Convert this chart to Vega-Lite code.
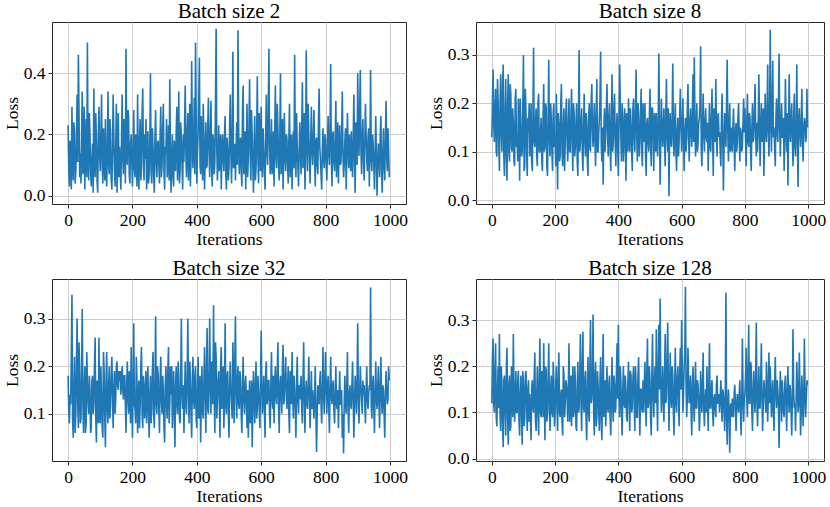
{
  "$schema": "https://vega.github.io/schema/vega-lite/v6.json",
  "padding": {"left": 2, "top": 0, "right": 0, "bottom": 0},
  "background": "white",
  "data": {
    "values": [
      {"x":0,"a":0.23,"b":0.13,"c":0.18,"d":0.12},
      {"x":4,"a":0.03,"b":0.27,"c":0.08,"d":0.26},
      {"x":8,"a":0.14,"b":0.12,"c":0.12,"d":0.1},
      {"x":12,"a":0.29,"b":0.23,"c":0.35,"d":0.25},
      {"x":16,"a":0.05,"b":0.09,"c":0.05,"d":0.07},
      {"x":20,"a":0.21,"b":0.2,"c":0.22,"d":0.2},
      {"x":24,"a":0.08,"b":0.06,"c":0.1,"d":0.27},
      {"x":28,"a":0.33,"b":0.26,"c":0.3,"d":0.06},
      {"x":32,"a":0.46,"b":0.1,"c":0.07,"d":0.16},
      {"x":36,"a":0.06,"b":0.28,"c":0.19,"d":0.025},
      {"x":40,"a":0.04,"b":0.05,"c":0.09,"d":0.18},
      {"x":44,"a":0.34,"b":0.25,"c":0.32,"d":0.05},
      {"x":48,"a":0.1,"b":0.04,"c":0.06,"d":0.24},
      {"x":52,"a":0.02,"b":0.26,"c":0.2,"d":0.03},
      {"x":56,"a":0.25,"b":0.08,"c":0.08,"d":0.18},
      {"x":60,"a":0.5,"b":0.22,"c":0.17,"d":0.07},
      {"x":64,"a":0.05,"b":0.1,"c":0.1,"d":0.16},
      {"x":68,"a":0.2,"b":0.16,"c":0.15,"d":0.27},
      {"x":72,"a":0.03,"b":0.07,"c":0.07,"d":0.08},
      {"x":76,"a":0.17,"b":0.23,"c":0.18,"d":0.19},
      {"x":80,"a":0.35,"b":0.12,"c":0.12,"d":0.1},
      {"x":84,"a":0.06,"b":0.21,"c":0.26,"d":0.19},
      {"x":88,"a":0.18,"b":0.04,"c":0.04,"d":0.05},
      {"x":92,"a":0.01,"b":0.15,"c":0.15,"d":0.18},
      {"x":96,"a":0.29,"b":0.1,"c":0.26,"d":0.03},
      {"x":100,"a":0.08,"b":0.3,"c":0.08,"d":0.16},
      {"x":104,"a":0.33,"b":0.07,"c":0.14,"d":0.09},
      {"x":108,"a":0.04,"b":0.18,"c":0.05,"d":0.19},
      {"x":112,"a":0.14,"b":0.05,"c":0.19,"d":0.06},
      {"x":116,"a":0.25,"b":0.14,"c":0.03,"d":0.17},
      {"x":120,"a":0.03,"b":0.09,"c":0.23,"d":0.14},
      {"x":124,"a":0.34,"b":0.2,"c":0.08,"d":0.04},
      {"x":128,"a":0.07,"b":0.06,"c":0.2,"d":0.17},
      {"x":132,"a":0.21,"b":0.315,"c":0.12,"d":0.1},
      {"x":136,"a":0.02,"b":0.11,"c":0.22,"d":0.23},
      {"x":140,"a":0.33,"b":0.19,"c":0.07,"d":0.06},
      {"x":144,"a":0.09,"b":0.07,"c":0.19,"d":0.2},
      {"x":148,"a":0.15,"b":0.22,"c":0.13,"d":0.05},
      {"x":152,"a":0.01,"b":0.1,"c":0.21,"d":0.26},
      {"x":156,"a":0.27,"b":0.17,"c":0.15,"d":0.09},
      {"x":160,"a":0.16,"b":0.06,"c":0.17,"d":0.16},
      {"x":164,"a":0.02,"b":0.24,"c":0.14,"d":0.25},
      {"x":168,"a":0.33,"b":0.11,"c":0.2,"d":0.04},
      {"x":172,"a":0.07,"b":0.19,"c":0.13,"d":0.19},
      {"x":176,"a":0.22,"b":0.05,"c":0.18,"d":0.1},
      {"x":180,"a":0.48,"b":0.29,"c":0.06,"d":0.25},
      {"x":184,"a":0.1,"b":0.09,"c":0.21,"d":0.06},
      {"x":188,"a":0.26,"b":0.17,"c":0.1,"d":0.18},
      {"x":192,"a":0.04,"b":0.06,"c":0.15,"d":0.09},
      {"x":196,"a":0.2,"b":0.2,"c":0.24,"d":0.17},
      {"x":200,"a":0.03,"b":0.13,"c":0.05,"d":0.1},
      {"x":204,"a":0.28,"b":0.22,"c":0.29,"d":0.2},
      {"x":208,"a":0.06,"b":0.022,"c":0.11,"d":0.06},
      {"x":212,"a":0.14,"b":0.16,"c":0.22,"d":0.23},
      {"x":216,"a":0.33,"b":0.09,"c":0.06,"d":0.09},
      {"x":220,"a":0.02,"b":0.24,"c":0.17,"d":0.15},
      {"x":224,"a":0.25,"b":0.07,"c":0.12,"d":0.05},
      {"x":228,"a":0.09,"b":0.19,"c":0.24,"d":0.18},
      {"x":232,"a":0.35,"b":0.12,"c":0.07,"d":0.12},
      {"x":236,"a":0.05,"b":0.21,"c":0.16,"d":0.16},
      {"x":240,"a":0.12,"b":0.08,"c":0.13,"d":0.08},
      {"x":244,"a":0.02,"b":0.21,"c":0.08,"d":0.25},
      {"x":248,"a":0.21,"b":0.1,"c":0.2,"d":0.12},
      {"x":252,"a":0.07,"b":0.23,"c":0.05,"d":0.07},
      {"x":256,"a":0.4,"b":0.06,"c":0.18,"d":0.2},
      {"x":260,"a":0.04,"b":0.18,"c":0.11,"d":0.1},
      {"x":264,"a":0.16,"b":0.11,"c":0.23,"d":0.17},
      {"x":268,"a":0.01,"b":0.2,"c":0.07,"d":0.06},
      {"x":272,"a":0.28,"b":0.05,"c":0.305,"d":0.21},
      {"x":276,"a":0.06,"b":0.31,"c":0.1,"d":0.11},
      {"x":280,"a":0.18,"b":0.12,"c":0.18,"d":0.27},
      {"x":284,"a":0.04,"b":0.19,"c":0.06,"d":0.06},
      {"x":288,"a":0.29,"b":0.06,"c":0.22,"d":0.275},
      {"x":292,"a":0.1,"b":0.22,"c":0.1,"d":0.1},
      {"x":296,"a":0.3,"b":0.09,"c":0.15,"d":0.19},
      {"x":300,"a":0.02,"b":0.16,"c":0.04,"d":0.04},
      {"x":304,"a":0.14,"b":0.05,"c":0.2,"d":0.22},
      {"x":308,"a":0.06,"b":0.2,"c":0.09,"d":0.08},
      {"x":312,"a":0.23,"b":0.1,"c":0.24,"d":0.3},
      {"x":316,"a":0.38,"b":0.24,"c":0.12,"d":0.13},
      {"x":320,"a":0.01,"b":0.11,"c":0.14,"d":0.312},
      {"x":324,"a":0.2,"b":0.2,"c":0.07,"d":0.05},
      {"x":328,"a":0.03,"b":0.07,"c":0.19,"d":0.21},
      {"x":332,"a":0.13,"b":0.25,"c":0.03,"d":0.09},
      {"x":336,"a":0.21,"b":0.1,"c":0.2,"d":0.16},
      {"x":340,"a":0.05,"b":0.17,"c":0.1,"d":0.06},
      {"x":344,"a":0.34,"b":0.307,"c":0.18,"d":0.22},
      {"x":348,"a":0.08,"b":0.08,"c":0.08,"d":0.04},
      {"x":352,"a":0.19,"b":0.032,"c":0.3,"d":0.27},
      {"x":356,"a":0.02,"b":0.19,"c":0.11,"d":0.12},
      {"x":360,"a":0.11,"b":0.14,"c":0.06,"d":0.07},
      {"x":364,"a":0.36,"b":0.24,"c":0.21,"d":0.2},
      {"x":368,"a":0.06,"b":0.09,"c":0.1,"d":0.1},
      {"x":372,"a":0.27,"b":0.2,"c":0.3,"d":0.18},
      {"x":376,"a":0.15,"b":0.06,"c":0.08,"d":0.05},
      {"x":380,"a":0.03,"b":0.26,"c":0.18,"d":0.22},
      {"x":384,"a":0.44,"b":0.12,"c":0.05,"d":0.08},
      {"x":388,"a":0.09,"b":0.22,"c":0.22,"d":0.16},
      {"x":392,"a":0.32,"b":0.07,"c":0.11,"d":0.11},
      {"x":396,"a":0.5,"b":0.18,"c":0.2,"d":0.25},
      {"x":400,"a":0.04,"b":0.05,"c":0.07,"d":0.29},
      {"x":404,"a":0.2,"b":0.28,"c":0.22,"d":0.09},
      {"x":408,"a":0.45,"b":0.13,"c":0.12,"d":0.17},
      {"x":412,"a":0.07,"b":0.2,"c":0.04,"d":0.05},
      {"x":416,"a":0.15,"b":0.08,"c":0.2,"d":0.2},
      {"x":420,"a":0.3,"b":0.19,"c":0.09,"d":0.11},
      {"x":424,"a":0.02,"b":0.04,"c":0.24,"d":0.15},
      {"x":428,"a":0.24,"b":0.15,"c":0.06,"d":0.08},
      {"x":432,"a":0.1,"b":0.21,"c":0.28,"d":0.21},
      {"x":436,"a":0.32,"b":0.1,"c":0.1,"d":0.06},
      {"x":440,"a":0.06,"b":0.16,"c":0.3,"d":0.18},
      {"x":444,"a":0.31,"b":0.06,"c":0.1,"d":0.11},
      {"x":448,"a":0.03,"b":0.21,"c":0.2,"d":0.2},
      {"x":452,"a":0.18,"b":0.1,"c":0.328,"d":0.06},
      {"x":456,"a":0.11,"b":0.27,"c":0.06,"d":0.16},
      {"x":460,"a":0.545,"b":0.08,"c":0.22,"d":0.09},
      {"x":464,"a":0.05,"b":0.18,"c":0.13,"d":0.22},
      {"x":468,"a":0.23,"b":0.12,"c":0.19,"d":0.05},
      {"x":472,"a":0.14,"b":0.23,"c":0.05,"d":0.15},
      {"x":476,"a":0.02,"b":0.07,"c":0.24,"d":0.1},
      {"x":480,"a":0.2,"b":0.12,"c":0.15,"d":0.1},
      {"x":484,"a":0.08,"b":0.2,"c":0.07,"d":0.21},
      {"x":488,"a":0.26,"b":0.05,"c":0.29,"d":0.07},
      {"x":492,"a":0.02,"b":0.17,"c":0.1,"d":0.26},
      {"x":496,"a":0.15,"b":0.1,"c":0.19,"d":0.12},
      {"x":500,"a":0.09,"b":0.23,"c":0.05,"d":0.17},
      {"x":504,"a":0.33,"b":0.07,"c":0.21,"d":0.05},
      {"x":508,"a":0.04,"b":0.19,"c":0.12,"d":0.27},
      {"x":512,"a":0.47,"b":0.06,"c":0.25,"d":0.09},
      {"x":516,"a":0.1,"b":0.16,"c":0.08,"d":0.2},
      {"x":520,"a":0.05,"b":0.18,"c":0.305,"d":0.28},
      {"x":524,"a":0.24,"b":0.09,"c":0.09,"d":0.06},
      {"x":528,"a":0.54,"b":0.303,"c":0.2,"d":0.29},
      {"x":532,"a":0.07,"b":0.032,"c":0.11,"d":0.347},
      {"x":536,"a":0.19,"b":0.21,"c":0.17,"d":0.1},
      {"x":540,"a":0.03,"b":0.11,"c":0.06,"d":0.2},
      {"x":544,"a":0.36,"b":0.19,"c":0.22,"d":0.08},
      {"x":548,"a":0.11,"b":0.07,"c":0.1,"d":0.27},
      {"x":552,"a":0.02,"b":0.25,"c":0.18,"d":0.13},
      {"x":556,"a":0.3,"b":0.1,"c":0.07,"d":0.295},
      {"x":560,"a":0.12,"b":0.008,"c":0.05,"d":0.06},
      {"x":564,"a":0.38,"b":0.18,"c":0.17,"d":0.23},
      {"x":568,"a":0.05,"b":0.11,"c":0.12,"d":0.11},
      {"x":572,"a":0.2,"b":0.282,"c":0.03,"d":0.18},
      {"x":576,"a":0.01,"b":0.09,"c":0.19,"d":0.05},
      {"x":580,"a":0.26,"b":0.2,"c":0.08,"d":0.24},
      {"x":584,"a":0.09,"b":0.06,"c":0.21,"d":0.1},
      {"x":588,"a":0.39,"b":0.17,"c":0.11,"d":0.2},
      {"x":592,"a":0.04,"b":0.12,"c":0.15,"d":0.07},
      {"x":596,"a":0.18,"b":0.23,"c":0.07,"d":0.24},
      {"x":600,"a":0.29,"b":0.1,"c":0.275,"d":0.3},
      {"x":604,"a":0.06,"b":0.21,"c":0.1,"d":0.1},
      {"x":608,"a":0.15,"b":0.06,"c":0.18,"d":0.2},
      {"x":612,"a":0.02,"b":0.17,"c":0.05,"d":0.372},
      {"x":616,"a":0.33,"b":0.13,"c":0.21,"d":0.09},
      {"x":620,"a":0.1,"b":0.24,"c":0.13,"d":0.24},
      {"x":624,"a":0.48,"b":0.08,"c":0.17,"d":0.12},
      {"x":628,"a":0.07,"b":0.19,"c":0.07,"d":0.18},
      {"x":632,"a":0.25,"b":0.11,"c":0.23,"d":0.05},
      {"x":636,"a":0.13,"b":0.26,"c":0.11,"d":0.2},
      {"x":640,"a":0.03,"b":0.295,"c":0.08,"d":0.08},
      {"x":644,"a":0.36,"b":0.09,"c":0.2,"d":0.21},
      {"x":648,"a":0.09,"b":0.2,"c":0.12,"d":0.11},
      {"x":652,"a":0.22,"b":0.12,"c":0.25,"d":0.16},
      {"x":656,"a":0.05,"b":0.17,"c":0.06,"d":0.06},
      {"x":660,"a":0.4,"b":0.318,"c":0.18,"d":0.19},
      {"x":664,"a":0.14,"b":0.07,"c":0.1,"d":0.1},
      {"x":668,"a":0.02,"b":0.22,"c":0.245,"d":0.23},
      {"x":672,"a":0.27,"b":0.1,"c":0.13,"d":0.07},
      {"x":676,"a":0.08,"b":0.19,"c":0.22,"d":0.15},
      {"x":680,"a":0.19,"b":0.12,"c":0.11,"d":0.2},
      {"x":684,"a":0.04,"b":0.06,"c":0.2,"d":0.06},
      {"x":688,"a":0.3,"b":0.2,"c":0.06,"d":0.25},
      {"x":692,"a":0.11,"b":0.1,"c":0.17,"d":0.11},
      {"x":696,"a":0.02,"b":0.23,"c":0.23,"d":0.17},
      {"x":700,"a":0.21,"b":0.05,"c":0.09,"d":0.07},
      {"x":704,"a":0.46,"b":0.16,"c":0.15,"d":0.14},
      {"x":708,"a":0.06,"b":0.25,"c":0.05,"d":0.09},
      {"x":712,"a":0.16,"b":0.09,"c":0.22,"d":0.18},
      {"x":716,"a":0.03,"b":0.18,"c":0.1,"d":0.12},
      {"x":720,"a":0.24,"b":0.14,"c":0.13,"d":0.1},
      {"x":724,"a":0.07,"b":0.07,"c":0.18,"d":0.17},
      {"x":728,"a":0.37,"b":0.22,"c":0.08,"d":0.08},
      {"x":732,"a":0.13,"b":0.02,"c":0.25,"d":0.14},
      {"x":736,"a":0.02,"b":0.18,"c":0.06,"d":0.06},
      {"x":740,"a":0.475,"b":0.11,"c":0.17,"d":0.36},
      {"x":744,"a":0.08,"b":0.29,"c":0.11,"d":0.03},
      {"x":748,"a":0.2,"b":0.08,"c":0.22,"d":0.15},
      {"x":752,"a":0.04,"b":0.2,"c":0.07,"d":0.013},
      {"x":756,"a":0.29,"b":0.12,"c":0.19,"d":0.12},
      {"x":760,"a":0.1,"b":0.1,"c":0.15,"d":0.13},
      {"x":764,"a":0.28,"b":0.19,"c":0.09,"d":0.09},
      {"x":768,"a":0.03,"b":0.06,"c":0.2,"d":0.16},
      {"x":772,"a":0.19,"b":0.16,"c":0.02,"d":0.06},
      {"x":776,"a":0.07,"b":0.12,"c":0.16,"d":0.14},
      {"x":780,"a":0.35,"b":0.2,"c":0.12,"d":0.1},
      {"x":784,"a":0.12,"b":0.08,"c":0.19,"d":0.17},
      {"x":788,"a":0.02,"b":0.14,"c":0.08,"d":0.05},
      {"x":792,"a":0.22,"b":0.11,"c":0.24,"d":0.26},
      {"x":796,"a":0.09,"b":0.21,"c":0.1,"d":0.08},
      {"x":800,"a":0.18,"b":0.19,"c":0.23,"d":0.14},
      {"x":804,"a":0.05,"b":0.07,"c":0.1,"d":0.24},
      {"x":808,"a":0.26,"b":0.22,"c":0.18,"d":0.09},
      {"x":812,"a":0.1,"b":0.11,"c":0.06,"d":0.29},
      {"x":816,"a":0.43,"b":0.17,"c":0.22,"d":0.12},
      {"x":820,"a":0.03,"b":0.06,"c":0.12,"d":0.2},
      {"x":824,"a":0.21,"b":0.2,"c":0.17,"d":0.06},
      {"x":828,"a":0.08,"b":0.13,"c":0.08,"d":0.19},
      {"x":832,"a":0.31,"b":0.24,"c":0.2,"d":0.1},
      {"x":836,"a":0.14,"b":0.09,"c":0.11,"d":0.295},
      {"x":840,"a":0.04,"b":0.1,"c":0.07,"d":0.07},
      {"x":844,"a":0.23,"b":0.26,"c":0.19,"d":0.2},
      {"x":848,"a":0.11,"b":0.07,"c":0.12,"d":0.11},
      {"x":852,"a":0.34,"b":0.2,"c":0.05,"d":0.25},
      {"x":856,"a":0.06,"b":0.14,"c":0.017,"d":0.06},
      {"x":860,"a":0.18,"b":0.05,"c":0.18,"d":0.17},
      {"x":864,"a":0.02,"b":0.22,"c":0.1,"d":0.13},
      {"x":868,"a":0.27,"b":0.12,"c":0.23,"d":0.21},
      {"x":872,"a":0.09,"b":0.28,"c":0.06,"d":0.08},
      {"x":876,"a":0.15,"b":0.09,"c":0.16,"d":0.23},
      {"x":880,"a":0.21,"b":0.352,"c":0.11,"d":0.2},
      {"x":884,"a":0.06,"b":0.1,"c":0.21,"d":0.09},
      {"x":888,"a":0.33,"b":0.288,"c":0.05,"d":0.17},
      {"x":892,"a":0.01,"b":0.15,"c":0.18,"d":0.06},
      {"x":896,"a":0.2,"b":0.07,"c":0.1,"d":0.22},
      {"x":900,"a":0.4,"b":0.21,"c":0.29,"d":0.11},
      {"x":904,"a":0.13,"b":0.12,"c":0.08,"d":0.15},
      {"x":908,"a":0.41,"b":0.303,"c":0.2,"d":0.023},
      {"x":912,"a":0.07,"b":0.09,"c":0.13,"d":0.19},
      {"x":916,"a":0.25,"b":0.2,"c":0.17,"d":0.08},
      {"x":920,"a":0.05,"b":0.13,"c":0.16,"d":0.14},
      {"x":924,"a":0.3,"b":0.06,"c":0.08,"d":0.09},
      {"x":928,"a":0.12,"b":0.25,"c":0.2,"d":0.18},
      {"x":932,"a":0.19,"b":0.1,"c":0.11,"d":0.06},
      {"x":936,"a":0.03,"b":0.03,"c":0.16,"d":0.2},
      {"x":940,"a":0.41,"b":0.26,"c":0.365,"d":0.1},
      {"x":944,"a":0.08,"b":0.12,"c":0.09,"d":0.15},
      {"x":948,"a":0.17,"b":0.2,"c":0.18,"d":0.05},
      {"x":952,"a":0.02,"b":0.07,"c":0.06,"d":0.28},
      {"x":956,"a":0.26,"b":0.22,"c":0.21,"d":0.11},
      {"x":960,"a":0.0,"b":0.09,"c":0.11,"d":0.06},
      {"x":964,"a":0.17,"b":0.28,"c":0.2,"d":0.21},
      {"x":968,"a":0.06,"b":0.027,"c":0.07,"d":0.1},
      {"x":972,"a":0.26,"b":0.19,"c":0.22,"d":0.23},
      {"x":976,"a":0.01,"b":0.11,"c":0.1,"d":0.05},
      {"x":980,"a":0.22,"b":0.23,"c":0.15,"d":0.18},
      {"x":984,"a":0.05,"b":0.08,"c":0.05,"d":0.07},
      {"x":988,"a":0.31,"b":0.17,"c":0.19,"d":0.26},
      {"x":992,"a":0.08,"b":0.12,"c":0.12,"d":0.09},
      {"x":996,"a":0.15,"b":0.23,"c":0.2,"d":0.17},
      {"x":2,"a":0.09,"b":0.2,"c":0.11,"d":0.22},
      {"x":6,"a":0.18,"b":0.16,"c":0.14,"d":0.12},
      {"x":10,"a":0.02,"b":0.19,"c":0.22,"d":0.19},
      {"x":14,"a":0.12,"b":0.1,"c":0.09,"d":0.09},
      {"x":18,"a":0.24,"b":0.25,"c":0.15,"d":0.15},
      {"x":22,"a":0.04,"b":0.12,"c":0.06,"d":0.11},
      {"x":26,"a":0.17,"b":0.2,"c":0.2,"d":0.1},
      {"x":30,"a":0.11,"b":0.14,"c":0.12,"d":0.2},
      {"x":34,"a":0.26,"b":0.24,"c":0.25,"d":0.07},
      {"x":38,"a":0.14,"b":0.09,"c":0.08,"d":0.17},
      {"x":42,"a":0.2,"b":0.18,"c":0.19,"d":0.1},
      {"x":46,"a":0.07,"b":0.09,"c":0.12,"d":0.2},
      {"x":50,"a":0.29,"b":0.2,"c":0.15,"d":0.09},
      {"x":54,"a":0.15,"b":0.1,"c":0.06,"d":0.16},
      {"x":58,"a":0.06,"b":0.24,"c":0.23,"d":0.06},
      {"x":62,"a":0.13,"b":0.11,"c":0.12,"d":0.2},
      {"x":66,"a":0.27,"b":0.19,"c":0.18,"d":0.09},
      {"x":70,"a":0.08,"b":0.08,"c":0.06,"d":0.15},
      {"x":74,"a":0.12,"b":0.21,"c":0.17,"d":0.13},
      {"x":78,"a":0.01,"b":0.11,"c":0.1,"d":0.1},
      {"x":82,"a":0.12,"b":0.08,"c":0.2,"d":0.17},
      {"x":86,"a":0.27,"b":0.15,"c":0.09,"d":0.08},
      {"x":90,"a":0.05,"b":0.21,"c":0.17,"d":0.14},
      {"x":94,"a":0.2,"b":0.09,"c":0.08,"d":0.1},
      {"x":98,"a":0.13,"b":0.19,"c":0.1,"d":0.19},
      {"x":102,"a":0.19,"b":0.06,"c":0.2,"d":0.07},
      {"x":106,"a":0.1,"b":0.23,"c":0.07,"d":0.18},
      {"x":110,"a":0.22,"b":0.1,"c":0.23,"d":0.11},
      {"x":114,"a":0.05,"b":0.17,"c":0.09,"d":0.15},
      {"x":118,"a":0.09,"b":0.2,"c":0.17,"d":0.08},
      {"x":122,"a":0.16,"b":0.15,"c":0.11,"d":0.09},
      {"x":126,"a":0.1,"b":0.08,"c":0.16,"d":0.15},
      {"x":130,"a":0.25,"b":0.18,"c":0.09,"d":0.11},
      {"x":134,"a":0.05,"b":0.12,"c":0.18,"d":0.18},
      {"x":138,"a":0.14,"b":0.16,"c":0.14,"d":0.08},
      {"x":142,"a":0.2,"b":0.09,"c":0.15,"d":0.14},
      {"x":146,"a":0.03,"b":0.2,"c":0.1,"d":0.1},
      {"x":150,"a":0.3,"b":0.1,"c":0.2,"d":0.17},
      {"x":154,"a":0.12,"b":0.14,"c":0.16,"d":0.1},
      {"x":158,"a":0.06,"b":0.08,"c":0.19,"d":0.19},
      {"x":162,"a":0.08,"b":0.17,"c":0.19,"d":0.09},
      {"x":166,"a":0.18,"b":0.1,"c":0.17,"d":0.13},
      {"x":170,"a":0.12,"b":0.2,"c":0.15,"d":0.2},
      {"x":174,"a":0.25,"b":0.07,"c":0.18,"d":0.08},
      {"x":178,"a":0.04,"b":0.16,"c":0.12,"d":0.17},
      {"x":182,"a":0.15,"b":0.13,"c":0.16,"d":0.11},
      {"x":186,"a":0.28,"b":0.2,"c":0.13,"d":0.15},
      {"x":190,"a":0.07,"b":0.1,"c":0.19,"d":0.1},
      {"x":194,"a":0.17,"b":0.18,"c":0.08,"d":0.21},
      {"x":198,"a":0.11,"b":0.11,"c":0.14,"d":0.07},
      {"x":202,"a":0.15,"b":0.07,"c":0.15,"d":0.16},
      {"x":206,"a":0.09,"b":0.13,"c":0.12,"d":0.11},
      {"x":210,"a":0.2,"b":0.18,"c":0.08,"d":0.18},
      {"x":214,"a":0.03,"b":0.08,"c":0.17,"d":0.1},
      {"x":218,"a":0.1,"b":0.2,"c":0.13,"d":0.14},
      {"x":222,"a":0.18,"b":0.1,"c":0.07,"d":0.08},
      {"x":226,"a":0.05,"b":0.15,"c":0.2,"d":0.2},
      {"x":230,"a":0.27,"b":0.06,"c":0.1,"d":0.09},
      {"x":234,"a":0.12,"b":0.18,"c":0.18,"d":0.17},
      {"x":238,"a":0.2,"b":0.12,"c":0.09,"d":0.13},
      {"x":242,"a":0.25,"b":0.15,"c":0.19,"d":0.16},
      {"x":246,"a":0.1,"b":0.1,"c":0.15,"d":0.08},
      {"x":250,"a":0.04,"b":0.17,"c":0.1,"d":0.18},
      {"x":254,"a":0.17,"b":0.12,"c":0.14,"d":0.13},
      {"x":258,"a":0.08,"b":0.2,"c":0.08,"d":0.09},
      {"x":262,"a":0.22,"b":0.09,"c":0.19,"d":0.2},
      {"x":266,"a":0.06,"b":0.16,"c":0.1,"d":0.07},
      {"x":270,"a":0.19,"b":0.08,"c":0.16,"d":0.15},
      {"x":274,"a":0.11,"b":0.18,"c":0.12,"d":0.1},
      {"x":278,"a":0.17,"b":0.1,"c":0.2,"d":0.18},
      {"x":282,"a":0.1,"b":0.16,"c":0.11,"d":0.12},
      {"x":286,"a":0.2,"b":0.1,"c":0.17,"d":0.2},
      {"x":290,"a":0.06,"b":0.15,"c":0.13,"d":0.11},
      {"x":294,"a":0.22,"b":0.13,"c":0.18,"d":0.17},
      {"x":298,"a":0.08,"b":0.18,"c":0.07,"d":0.08},
      {"x":302,"a":0.16,"b":0.08,"c":0.16,"d":0.16},
      {"x":306,"a":0.25,"b":0.17,"c":0.12,"d":0.1},
      {"x":310,"a":0.11,"b":0.11,"c":0.19,"d":0.2},
      {"x":314,"a":0.05,"b":0.2,"c":0.08,"d":0.12},
      {"x":318,"a":0.13,"b":0.15,"c":0.2,"d":0.18},
      {"x":322,"a":0.12,"b":0.15,"c":0.2,"d":0.1},
      {"x":326,"a":0.06,"b":0.12,"c":0.13,"d":0.18},
      {"x":330,"a":0.18,"b":0.18,"c":0.1,"d":0.07},
      {"x":334,"a":0.08,"b":0.1,"c":0.16,"d":0.19},
      {"x":338,"a":0.29,"b":0.14,"c":0.12,"d":0.1},
      {"x":342,"a":0.13,"b":0.21,"c":0.21,"d":0.17},
      {"x":346,"a":0.04,"b":0.11,"c":0.09,"d":0.08},
      {"x":350,"a":0.24,"b":0.15,"c":0.17,"d":0.19},
      {"x":354,"a":0.1,"b":0.14,"c":0.14,"d":0.09},
      {"x":358,"a":0.2,"b":0.1,"c":0.16,"d":0.17},
      {"x":362,"a":0.24,"b":0.19,"c":0.14,"d":0.13},
      {"x":366,"a":0.14,"b":0.13,"c":0.12,"d":0.11},
      {"x":370,"a":0.2,"b":0.17,"c":0.17,"d":0.16},
      {"x":374,"a":0.05,"b":0.11,"c":0.15,"d":0.09},
      {"x":378,"a":0.3,"b":0.16,"c":0.21,"d":0.14},
      {"x":382,"a":0.12,"b":0.1,"c":0.1,"d":0.12},
      {"x":386,"a":0.2,"b":0.19,"c":0.16,"d":0.18},
      {"x":390,"a":0.15,"b":0.12,"c":0.13,"d":0.1},
      {"x":394,"a":0.07,"b":0.15,"c":0.18,"d":0.19},
      {"x":398,"a":0.26,"b":0.11,"c":0.09,"d":0.13},
      {"x":402,"a":0.14,"b":0.16,"c":0.15,"d":0.14},
      {"x":406,"a":0.31,"b":0.2,"c":0.09,"d":0.2},
      {"x":410,"a":0.1,"b":0.08,"c":0.18,"d":0.1},
      {"x":414,"a":0.26,"b":0.17,"c":0.13,"d":0.15},
      {"x":418,"a":0.05,"b":0.12,"c":0.11,"d":0.12},
      {"x":422,"a":0.18,"b":0.14,"c":0.17,"d":0.18},
      {"x":426,"a":0.12,"b":0.18,"c":0.14,"d":0.09},
      {"x":430,"a":0.09,"b":0.1,"c":0.19,"d":0.16},
      {"x":434,"a":0.22,"b":0.16,"c":0.11,"d":0.13},
      {"x":438,"a":0.15,"b":0.19,"c":0.17,"d":0.19},
      {"x":442,"a":0.19,"b":0.1,"c":0.16,"d":0.1},
      {"x":446,"a":0.09,"b":0.19,"c":0.21,"d":0.17},
      {"x":450,"a":0.2,"b":0.13,"c":0.12,"d":0.13},
      {"x":454,"a":0.07,"b":0.18,"c":0.14,"d":0.2},
      {"x":458,"a":0.3,"b":0.14,"c":0.25,"d":0.09},
      {"x":462,"a":0.16,"b":0.2,"c":0.09,"d":0.18},
      {"x":466,"a":0.12,"b":0.09,"c":0.17,"d":0.12},
      {"x":470,"a":0.08,"b":0.17,"c":0.12,"d":0.15},
      {"x":474,"a":0.2,"b":0.1,"c":0.2,"d":0.11},
      {"x":478,"a":0.14,"b":0.2,"c":0.11,"d":0.17},
      {"x":482,"a":0.13,"b":0.15,"c":0.2,"d":0.16},
      {"x":486,"a":0.2,"b":0.09,"c":0.13,"d":0.12},
      {"x":490,"a":0.07,"b":0.16,"c":0.12,"d":0.19},
      {"x":494,"a":0.19,"b":0.12,"c":0.18,"d":0.11},
      {"x":498,"a":0.05,"b":0.17,"c":0.1,"d":0.2},
      {"x":502,"a":0.23,"b":0.11,"c":0.16,"d":0.09},
      {"x":506,"a":0.13,"b":0.19,"c":0.15,"d":0.18},
      {"x":510,"a":0.2,"b":0.13,"c":0.09,"d":0.14},
      {"x":514,"a":0.09,"b":0.18,"c":0.17,"d":0.17},
      {"x":518,"a":0.17,"b":0.1,"c":0.21,"d":0.12},
      {"x":522,"a":0.15,"b":0.13,"c":0.14,"d":0.13},
      {"x":526,"a":0.1,"b":0.16,"c":0.17,"d":0.2},
      {"x":530,"a":0.22,"b":0.15,"c":0.12,"d":0.15},
      {"x":534,"a":0.14,"b":0.12,"c":0.19,"d":0.17},
      {"x":538,"a":0.08,"b":0.16,"c":0.1,"d":0.14},
      {"x":542,"a":0.28,"b":0.14,"c":0.16,"d":0.13},
      {"x":546,"a":0.07,"b":0.12,"c":0.13,"d":0.18},
      {"x":550,"a":0.21,"b":0.18,"c":0.16,"d":0.12},
      {"x":554,"a":0.16,"b":0.13,"c":0.12,"d":0.21},
      {"x":558,"a":0.06,"b":0.19,"c":0.15,"d":0.16},
      {"x":562,"a":0.22,"b":0.14,"c":0.12,"d":0.15},
      {"x":566,"a":0.14,"b":0.12,"c":0.08,"d":0.13},
      {"x":570,"a":0.28,"b":0.17,"c":0.17,"d":0.2},
      {"x":574,"a":0.1,"b":0.13,"c":0.11,"d":0.1},
      {"x":578,"a":0.16,"b":0.16,"c":0.14,"d":0.16},
      {"x":582,"a":0.05,"b":0.1,"c":0.16,"d":0.12},
      {"x":586,"a":0.2,"b":0.14,"c":0.09,"d":0.17},
      {"x":590,"a":0.12,"b":0.09,"c":0.18,"d":0.14},
      {"x":594,"a":0.27,"b":0.18,"c":0.11,"d":0.19},
      {"x":598,"a":0.08,"b":0.15,"c":0.16,"d":0.15},
      {"x":602,"a":0.12,"b":0.15,"c":0.16,"d":0.19},
      {"x":606,"a":0.22,"b":0.12,"c":0.14,"d":0.14},
      {"x":610,"a":0.08,"b":0.14,"c":0.11,"d":0.23},
      {"x":614,"a":0.19,"b":0.1,"c":0.19,"d":0.16},
      {"x":618,"a":0.14,"b":0.19,"c":0.12,"d":0.13},
      {"x":622,"a":0.27,"b":0.13,"c":0.17,"d":0.17},
      {"x":626,"a":0.17,"b":0.16,"c":0.1,"d":0.15},
      {"x":630,"a":0.12,"b":0.14,"c":0.16,"d":0.1},
      {"x":634,"a":0.07,"b":0.18,"c":0.13,"d":0.16},
      {"x":638,"a":0.21,"b":0.12,"c":0.18,"d":0.12},
      {"x":642,"a":0.18,"b":0.17,"c":0.15,"d":0.15},
      {"x":646,"a":0.13,"b":0.14,"c":0.14,"d":0.11},
      {"x":650,"a":0.3,"b":0.1,"c":0.19,"d":0.17},
      {"x":654,"a":0.1,"b":0.16,"c":0.12,"d":0.13},
      {"x":658,"a":0.2,"b":0.2,"c":0.16,"d":0.1},
      {"x":662,"a":0.07,"b":0.11,"c":0.14,"d":0.14},
      {"x":666,"a":0.25,"b":0.15,"c":0.2,"d":0.16},
      {"x":670,"a":0.15,"b":0.14,"c":0.12,"d":0.11},
      {"x":674,"a":0.12,"b":0.16,"c":0.18,"d":0.13},
      {"x":678,"a":0.2,"b":0.13,"c":0.15,"d":0.1},
      {"x":682,"a":0.1,"b":0.16,"c":0.15,"d":0.12},
      {"x":686,"a":0.18,"b":0.14,"c":0.1,"d":0.16},
      {"x":690,"a":0.06,"b":0.11,"c":0.19,"d":0.11},
      {"x":694,"a":0.2,"b":0.17,"c":0.12,"d":0.15},
      {"x":698,"a":0.13,"b":0.13,"c":0.14,"d":0.1},
      {"x":702,"a":0.09,"b":0.19,"c":0.18,"d":0.13},
      {"x":706,"a":0.16,"b":0.12,"c":0.11,"d":0.11},
      {"x":710,"a":0.27,"b":0.14,"c":0.17,"d":0.16},
      {"x":714,"a":0.1,"b":0.17,"c":0.13,"d":0.12},
      {"x":718,"a":0.14,"b":0.13,"c":0.16,"d":0.14},
      {"x":722,"a":0.15,"b":0.1,"c":0.16,"d":0.13},
      {"x":726,"a":0.21,"b":0.17,"c":0.11,"d":0.12},
      {"x":730,"a":0.09,"b":0.13,"c":0.17,"d":0.15},
      {"x":734,"a":0.27,"b":0.11,"c":0.13,"d":0.11},
      {"x":738,"a":0.14,"b":0.15,"c":0.14,"d":0.14},
      {"x":742,"a":0.19,"b":0.2,"c":0.12,"d":0.09},
      {"x":746,"a":0.3,"b":0.14,"c":0.16,"d":0.12},
      {"x":750,"a":0.12,"b":0.16,"c":0.14,"d":0.1},
      {"x":754,"a":0.18,"b":0.1,"c":0.13,"d":0.11},
      {"x":758,"a":0.14,"b":0.15,"c":0.11,"d":0.09},
      {"x":762,"a":0.19,"b":0.15,"c":0.12,"d":0.1},
      {"x":766,"a":0.13,"b":0.12,"c":0.14,"d":0.14},
      {"x":770,"a":0.18,"b":0.14,"c":0.11,"d":0.12},
      {"x":774,"a":0.1,"b":0.1,"c":0.1,"d":0.11},
      {"x":778,"a":0.24,"b":0.17,"c":0.13,"d":0.12},
      {"x":782,"a":0.16,"b":0.13,"c":0.17,"d":0.14},
      {"x":786,"a":0.07,"b":0.15,"c":0.12,"d":0.1},
      {"x":790,"a":0.15,"b":0.1,"c":0.15,"d":0.12},
      {"x":794,"a":0.12,"b":0.16,"c":0.14,"d":0.15},
      {"x":798,"a":0.2,"b":0.14,"c":0.17,"d":0.13},
      {"x":802,"a":0.1,"b":0.13,"c":0.15,"d":0.18},
      {"x":806,"a":0.16,"b":0.16,"c":0.16,"d":0.13},
      {"x":810,"a":0.14,"b":0.12,"c":0.12,"d":0.19},
      {"x":814,"a":0.22,"b":0.18,"c":0.15,"d":0.12},
      {"x":818,"a":0.12,"b":0.1,"c":0.14,"d":0.21},
      {"x":822,"a":0.2,"b":0.15,"c":0.16,"d":0.1},
      {"x":826,"a":0.11,"b":0.12,"c":0.11,"d":0.15},
      {"x":830,"a":0.17,"b":0.18,"c":0.14,"d":0.13},
      {"x":834,"a":0.06,"b":0.14,"c":0.12,"d":0.18},
      {"x":838,"a":0.24,"b":0.16,"c":0.15,"d":0.12},
      {"x":842,"a":0.16,"b":0.15,"c":0.13,"d":0.14},
      {"x":846,"a":0.1,"b":0.17,"c":0.12,"d":0.11},
      {"x":850,"a":0.2,"b":0.14,"c":0.15,"d":0.17},
      {"x":854,"a":0.14,"b":0.12,"c":0.1,"d":0.13},
      {"x":858,"a":0.1,"b":0.19,"c":0.12,"d":0.12},
      {"x":862,"a":0.22,"b":0.13,"c":0.13,"d":0.15},
      {"x":866,"a":0.13,"b":0.15,"c":0.16,"d":0.1},
      {"x":870,"a":0.16,"b":0.18,"c":0.11,"d":0.16},
      {"x":874,"a":0.2,"b":0.14,"c":0.14,"d":0.14},
      {"x":878,"a":0.08,"b":0.17,"c":0.12,"d":0.12},
      {"x":882,"a":0.13,"b":0.16,"c":0.16,"d":0.15},
      {"x":886,"a":0.19,"b":0.2,"c":0.13,"d":0.13},
      {"x":890,"a":0.12,"b":0.13,"c":0.12,"d":0.1},
      {"x":894,"a":0.24,"b":0.11,"c":0.15,"d":0.16},
      {"x":898,"a":0.1,"b":0.17,"c":0.17,"d":0.14},
      {"x":902,"a":0.2,"b":0.14,"c":0.13,"d":0.17},
      {"x":906,"a":0.28,"b":0.2,"c":0.14,"d":0.11},
      {"x":910,"a":0.15,"b":0.15,"c":0.16,"d":0.13},
      {"x":914,"a":0.18,"b":0.16,"c":0.1,"d":0.14},
      {"x":918,"a":0.12,"b":0.13,"c":0.14,"d":0.17},
      {"x":922,"a":0.17,"b":0.17,"c":0.12,"d":0.1},
      {"x":926,"a":0.2,"b":0.13,"c":0.15,"d":0.16},
      {"x":930,"a":0.08,"b":0.16,"c":0.13,"d":0.12},
      {"x":934,"a":0.22,"b":0.18,"c":0.14,"d":0.14},
      {"x":938,"a":0.15,"b":0.14,"c":0.15,"d":0.13},
      {"x":942,"a":0.12,"b":0.15,"c":0.12,"d":0.16},
      {"x":946,"a":0.2,"b":0.17,"c":0.16,"d":0.1},
      {"x":950,"a":0.1,"b":0.13,"c":0.11,"d":0.13},
      {"x":954,"a":0.14,"b":0.16,"c":0.15,"d":0.15},
      {"x":958,"a":0.12,"b":0.11,"c":0.13,"d":0.12},
      {"x":962,"a":0.1,"b":0.15,"c":0.15,"d":0.13},
      {"x":966,"a":0.12,"b":0.13,"c":0.12,"d":0.16},
      {"x":970,"a":0.2,"b":0.17,"c":0.16,"d":0.12},
      {"x":974,"a":0.09,"b":0.14,"c":0.13,"d":0.15},
      {"x":978,"a":0.13,"b":0.16,"c":0.16,"d":0.1},
      {"x":982,"a":0.1,"b":0.12,"c":0.1,"d":0.14},
      {"x":986,"a":0.18,"b":0.15,"c":0.14,"d":0.12},
      {"x":990,"a":0.13,"b":0.16,"c":0.15,"d":0.15},
      {"x":994,"a":0.22,"b":0.13,"c":0.13,"d":0.13},
      {"x":998,"a":0.06,"b":0.15,"c":0.17,"d":0.16}
    ]
  },
  "columns": 2,
  "spacing": {"row": 8, "column": 18},
  "concat": [
    {
      "title": "Batch size 2",
      "width": 354,
      "height": 182,
      "mark": {"type": "line", "color": "#1f77b4", "strokeWidth": 1.6, "clip": true},
      "encoding": {
        "x": {"field": "x", "type": "quantitative", "title": "Iterations",
              "scale": {"domain": [-50, 1050], "nice": false, "zero": false},
              "axis": {"values": [0, 200, 400, 600, 800, 1000], "format": "d"}},
        "y": {"field": "a", "type": "quantitative", "title": "Loss",
              "scale": {"domain": [-0.027, 0.567], "nice": false, "zero": false},
              "axis": {"values": [0, 0.2, 0.4], "format": ".1f"}}
      }
    },
    {
      "title": "Batch size 8",
      "width": 348,
      "height": 182,
      "mark": {"type": "line", "color": "#1f77b4", "strokeWidth": 1.6, "clip": true},
      "encoding": {
        "x": {"field": "x", "type": "quantitative", "title": "Iterations",
              "scale": {"domain": [-50, 1050], "nice": false, "zero": false},
              "axis": {"values": [0, 200, 400, 600, 800, 1000], "format": "d"}},
        "y": {"field": "b", "type": "quantitative", "title": "Loss",
              "scale": {"domain": [-0.008, 0.368], "nice": false, "zero": false},
              "axis": {"values": [0, 0.1, 0.2, 0.3], "format": ".1f"}}
      }
    },
    {
      "title": "Batch size 32",
      "width": 354,
      "height": 182,
      "mark": {"type": "line", "color": "#1f77b4", "strokeWidth": 1.6, "clip": true},
      "encoding": {
        "x": {"field": "x", "type": "quantitative", "title": "Iterations",
              "scale": {"domain": [-50, 1050], "nice": false, "zero": false},
              "axis": {"values": [0, 200, 400, 600, 800, 1000], "format": "d"}},
        "y": {"field": "c", "type": "quantitative", "title": "Loss",
              "scale": {"domain": [0.001, 0.383], "nice": false, "zero": false},
              "axis": {"values": [0.1, 0.2, 0.3], "format": ".1f"}}
      }
    },
    {
      "title": "Batch size 128",
      "width": 348,
      "height": 182,
      "mark": {"type": "line", "color": "#1f77b4", "strokeWidth": 1.6, "clip": true},
      "encoding": {
        "x": {"field": "x", "type": "quantitative", "title": "Iterations",
              "scale": {"domain": [-50, 1050], "nice": false, "zero": false},
              "axis": {"values": [0, 200, 400, 600, 800, 1000], "format": "d"}},
        "y": {"field": "d", "type": "quantitative", "title": "Loss",
              "scale": {"domain": [-0.005, 0.389], "nice": false, "zero": false},
              "axis": {"values": [0, 0.1, 0.2, 0.3], "format": ".1f"}}
      }
    }
  ],
  "config": {
    "font": "Liberation Serif",
    "view": {"stroke": "#262626", "strokeWidth": 1},
    "title": {"font": "Liberation Serif", "fontSize": 21, "fontWeight": "normal", "color": "black", "anchor": "middle", "offset": -1, "dy": -1},
    "axis": {
      "labelFont": "Liberation Serif",
      "titleFont": "Liberation Serif",
      "labelFontSize": 17.5,
      "titleFontSize": 17.5,
      "titleFontWeight": "normal",
      "labelColor": "black",
      "titleColor": "black",
      "domain": false,
      "tickColor": "#262626",
      "tickSize": 4,
      "labelPadding": 3,
      "titlePadding": 2,
      "gridColor": "#cccccc",
      "gridWidth": 1,
      "labelFlush": false
    }
  }
}
